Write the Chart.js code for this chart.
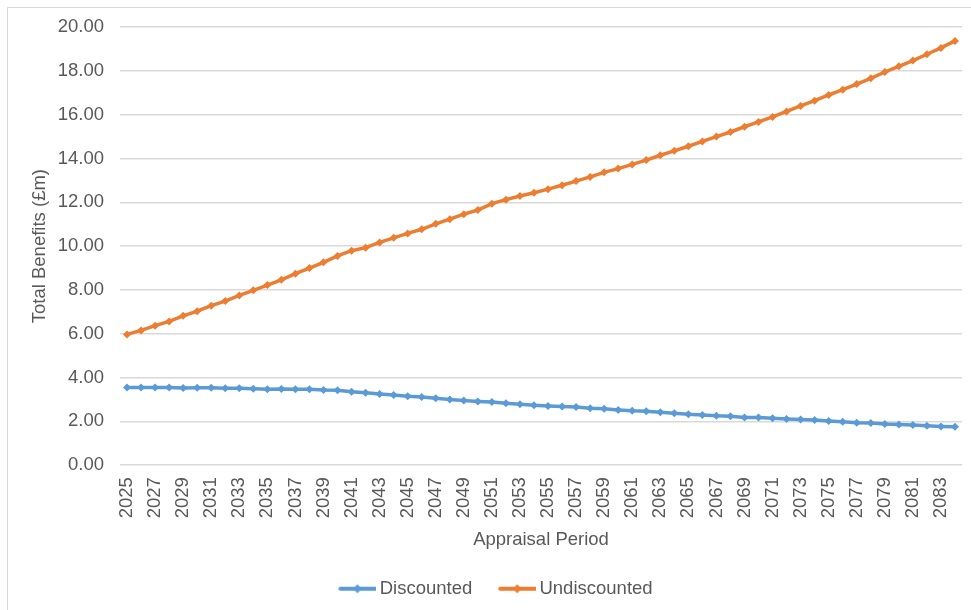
<!DOCTYPE html>
<html>
<head>
<meta charset="utf-8">
<script src="https://cdn.jsdelivr.net/npm/chart.js@4.4.0/dist/chart.umd.min.js"></script>
<style>
  body { margin: 0; background: #fff; }
  #wrap { position: relative; width: 971px; height: 610px; overflow: hidden; }
  #frame { position: absolute; left: 7px; top: 7px; width: 1200px; height: 800px; border: 1px solid #d9d9d9; pointer-events: none; }
  canvas { position: absolute; left: 0; top: 0; }
</style>
</head>
<body>
<div id="wrap">
  <canvas id="benefitsChart" width="971" height="610"></canvas>
  <div id="frame"></div>
</div>
<script>
// appraisal years 2025 - 2084
const years = [];
for (let y = 2025; y <= 2084; y++) years.push(String(y));

// values (£m)
const discounted = [
  3.55, 3.55, 3.55, 3.55, 3.52, 3.53, 3.53, 3.51, 3.51, 3.49,
  3.46, 3.48, 3.46, 3.46, 3.43, 3.42, 3.35, 3.31, 3.25, 3.20,
  3.15, 3.11, 3.05, 3.00, 2.95, 2.91, 2.88, 2.83, 2.78, 2.73,
  2.70, 2.68, 2.65, 2.60, 2.57, 2.52, 2.48, 2.46, 2.42, 2.37,
  2.32, 2.29, 2.25, 2.23, 2.18, 2.17, 2.14, 2.11, 2.08, 2.06,
  2.02, 1.98, 1.94, 1.92, 1.88, 1.86, 1.83, 1.80, 1.77, 1.75
];
const undiscounted = [
  5.97, 6.15, 6.37, 6.56, 6.82, 7.03, 7.28, 7.49, 7.75, 7.98,
  8.22, 8.46, 8.74, 9.00, 9.26, 9.55, 9.79, 9.93, 10.17, 10.38,
  10.58, 10.77, 11.02, 11.23, 11.46, 11.65, 11.94, 12.12, 12.29, 12.44,
  12.60, 12.78, 12.97, 13.16, 13.37, 13.54, 13.73, 13.93, 14.15, 14.35,
  14.56, 14.78, 15.00, 15.21, 15.45, 15.67, 15.90, 16.15, 16.40, 16.64,
  16.90, 17.14, 17.40, 17.66, 17.95, 18.21, 18.47, 18.76, 19.05, 19.37
];
const yTicks = [0, 2, 4, 6, 8, 10, 12, 14, 16, 18, 20];

const txt = '#595959';
const gridCol = '#d9d9d9';
const font = 'Liberation Sans, Arial, sans-serif';
const fs = 18.5;

// little line + diamond for the legend (line sits left of the box centre)
function legendMark(color) {
  const c = document.createElement('canvas');
  c.width = 44; c.height = 12;
  const g = c.getContext('2d');
  g.strokeStyle = color; g.lineWidth = 4; g.lineCap = 'round';
  g.beginPath(); g.moveTo(8, 6); g.lineTo(43, 6); g.stroke();
  g.fillStyle = color;
  g.beginPath(); g.moveTo(25, 1.5); g.lineTo(29.5, 6); g.lineTo(25, 10.5); g.lineTo(20.5, 6); g.closePath(); g.fill();
  return c;
}

const ctx = document.getElementById('benefitsChart').getContext('2d');
new Chart(ctx, {
  type: 'line',
  data: {
    labels: years,
    datasets: [{
      label: 'Discounted',
      data: discounted,
      borderColor: '#5b9bd5',
      backgroundColor: '#5b9bd5',
      borderWidth: 3.5,
      pointStyle: 'rectRot',
      pointRadius: 4,
      pointBorderWidth: 0,
      tension: 0
    }, {
      label: 'Undiscounted',
      data: undiscounted,
      borderColor: '#ed7d31',
      backgroundColor: '#ed7d31',
      borderWidth: 3.5,
      pointStyle: 'rectRot',
      pointRadius: 4,
      pointBorderWidth: 0,
      tension: 0
    }]
  },
  options: {
    responsive: false,
    animation: false,
    layout: { padding: { left: 29, top: 24, right: 9, bottom: 2 } },
    plugins: {
      tooltip: { enabled: false },
      legend: {
        position: 'bottom',
        labels: {
          color: txt,
          font: { family: font, size: fs },
          usePointStyle: true,
          pointStyleWidth: 32,
          padding: 26,
          generateLabels: function(chart) {
            return chart.data.datasets.map(function(ds, i) {
              return {
                text: ds.label,
                fontColor: txt,
                pointStyle: legendMark(ds.borderColor),
                datasetIndex: i,
                hidden: false,
                lineWidth: 0
              };
            });
          }
        }
      }
    },
    scales: {
      x: {
        offset: true,
        grid: { display: false },
        border: { display: false },
        afterFit: function(axis) {
          axis.height += 3;
          axis.paddingLeft = 0;
          axis.paddingRight = 0;
        },
        ticks: {
          autoSkip: false,
          maxRotation: 90,
          minRotation: 90,
          color: txt,
          padding: 4,
          font: { family: font, size: fs },
          callback: function(v, i) { return i % 2 === 0 ? years[i] : ''; }
        },
        title: {
          display: true,
          text: 'Appraisal Period',
          color: txt,
          font: { family: font, size: fs },
          padding: { top: 4, bottom: 2 }
        }
      },
      y: {
        min: yTicks[0],
        max: yTicks[yTicks.length - 1],
        afterBuildTicks: function(axis) { axis.ticks = yTicks.map(function(v) { return { value: v }; }); },
        afterFit: function(axis) { axis.width = 91; },
        grid: { color: gridCol, lineWidth: 1.5, tickLength: 0 },
        border: { display: false },
        ticks: {
          color: txt,
          padding: 16,
          font: { family: font, size: fs },
          callback: function(v) { return Number(v).toFixed(2); }
        },
        title: {
          display: true,
          text: 'Total Benefits (£m)',
          color: txt,
          font: { family: font, size: fs },
          padding: { top: 0, bottom: 0 }
        }
      }
    }
  }
});
</script>
</body>
</html>
